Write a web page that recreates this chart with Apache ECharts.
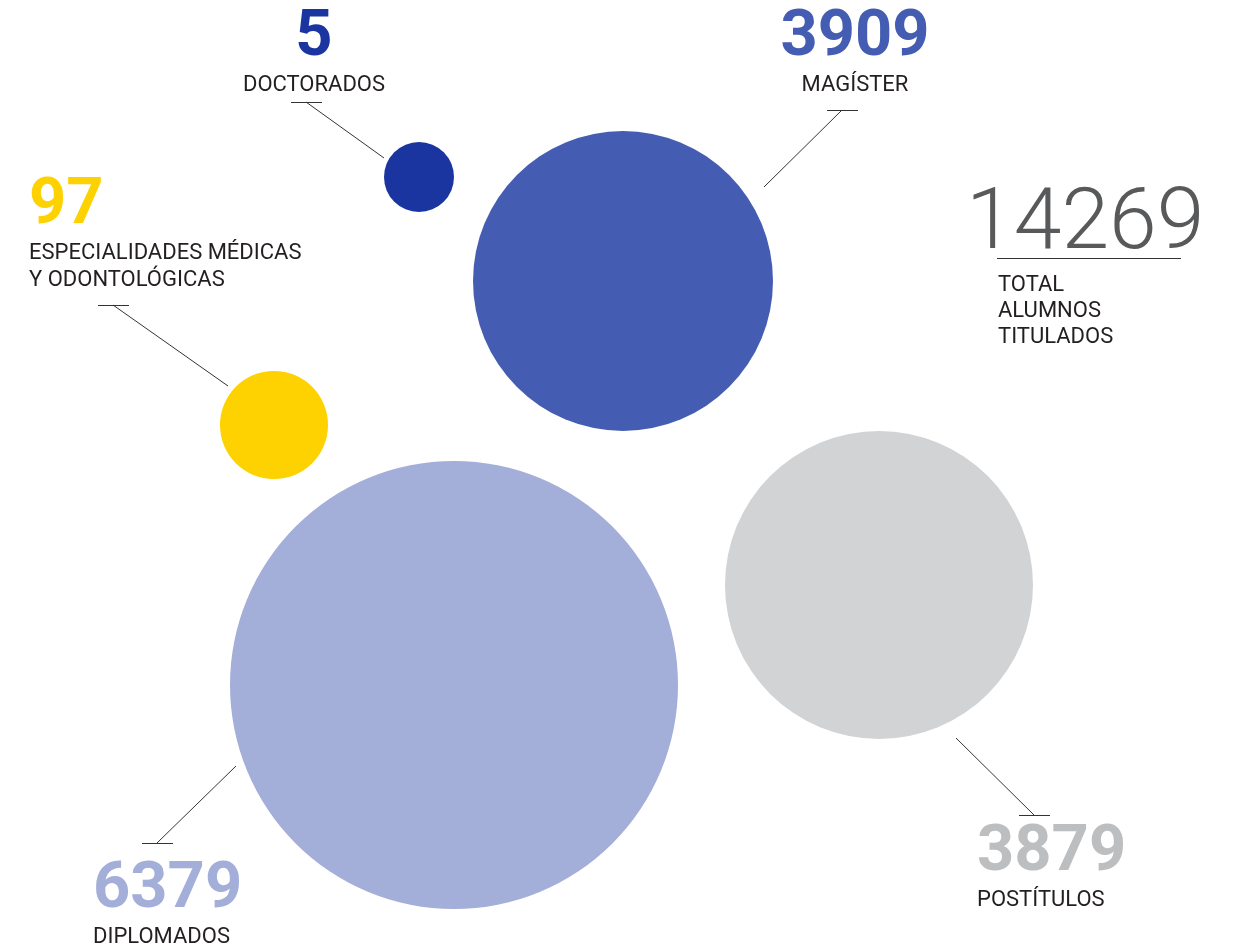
<!DOCTYPE html>
<html>
<head>
<meta charset="utf-8">
<style>html,body{margin:0;padding:0;background:#fff}#c{width:1237px;height:950px}</style>
<script src="https://cdn.jsdelivr.net/npm/echarts@6/dist/echarts.min.js"></script>
</head>
<body>
<div id="c"></div>
<script>
// ---- data ----
const categories = ['DOCTORADOS', 'MAGÍSTER', 'ESPECIALIDADES MÉDICAS\nY ODONTOLÓGICAS', 'DIPLOMADOS', 'POSTÍTULOS'];
const values = [5, 3909, 97, 6379, 3879];
const bubbleX = [419, 623, 274, 454, 879];
const bubbleY = [177, 281, 425, 685, 585];
const labelX = [314, 855, 29, 93, 977];
const labelY = [6, 6, 174, 858, 821];
const leaderStart = [[306, 102], [842, 110], [113, 305], [157, 843], [1034, 815]];
const leaderEnd = [[384, 158], [764, 187], [228, 386], [236, 766], [956, 738]];
const totalLabel = 'TOTAL\nALUMNOS\nTITULADOS';

// ---- style ----
const bubbleColors = ['#1a34a0', '#445db2', '#fed100', '#a3aed9', '#d1d3d5'];
const numberColors = ['#1a34a0', '#445db2', '#fed100', '#a3aed9', '#bcbec0'];
const bubbleDiameters = [70, 300, 108, 448, 308];
const labelAlign = ['center', 'center', 'left', 'left', 'left'];
const total = values.reduce((a, b) => a + b, 0);

const chart = echarts.init(document.getElementById('c'));

const bubbleData = values.map((v, i) => ({
  name: categories[i],
  value: [bubbleX[i], bubbleY[i], v],
  symbolSize: bubbleDiameters[i],
  itemStyle: { color: bubbleColors[i], opacity: 1 }
}));

const labelData = values.map((v, i) => ({
  name: categories[i],
  value: [labelX[i], labelY[i], v],
  itemStyle: { opacity: 1 },
  label: {
    show: true,
    position: [0, 0],
    align: labelAlign[i],
    verticalAlign: 'top',
    formatter: '{num|' + v + '}\n' + categories[i].split('\n').map(s => '{nm|' + s + '}').join('\n'),
    rich: {
      num: { fontFamily: 'Roboto', fontWeight: 'bold', fontSize: 65, lineHeight: 66, color: numberColors[i], align: labelAlign[i] },
      nm: { fontFamily: 'Roboto', fontSize: 22, lineHeight: 27, color: '#231f20', align: labelAlign[i] }
    }
  }
}));

const leaderLines = [];
leaderStart.forEach((s, i) => {
  leaderLines.push({ coords: [[s[0] - 15, s[1]], [s[0] + 16, s[1]]] });
  leaderLines.push({ coords: [s, leaderEnd[i]] });
});

chart.setOption({
  animation: false,
  grid: { left: 0, right: 0, top: 0, bottom: 0 },
  xAxis: { type: 'value', min: 0, max: 1237, show: false },
  yAxis: { type: 'value', min: 0, max: 950, inverse: true, show: false },
  series: [
    { type: 'scatter', data: bubbleData, clip: false, z: 2 },
    {
      type: 'lines', coordinateSystem: 'cartesian2d', data: leaderLines, z: 3,
      lineStyle: { color: '#333333', width: 1, opacity: 1 }, symbol: 'none'
    },
    { type: 'scatter', data: labelData, symbolSize: 0, clip: false, z: 4, silent: true },
    {
      type: 'lines', coordinateSystem: 'cartesian2d', z: 3,
      data: [{ coords: [[997, 258], [1181, 258]] }],
      lineStyle: { color: '#333333', width: 1.2, opacity: 1 }
    },
    {
      type: 'scatter', symbolSize: 0, clip: false, silent: true, z: 4,
      data: [{
        value: [966, 180, total],
        itemStyle: { opacity: 1 },
        label: {
          show: true, position: [0, 0], align: 'left', verticalAlign: 'top',
          formatter: '{big|' + total + '}\n' + totalLabel.split('\n').map(s => '{nm|' + s + '}').join('\n'),
          rich: {
            big: { fontFamily: 'Roboto', fontWeight: 300, fontSize: 86, lineHeight: 92, color: '#58595b' },
            nm: { fontFamily: 'Roboto', fontSize: 22, lineHeight: 26, color: '#231f20', padding: [0, 0, 0, 32] }
          }
        }
      }]
    }
  ]
});
</script>
</body>
</html>
